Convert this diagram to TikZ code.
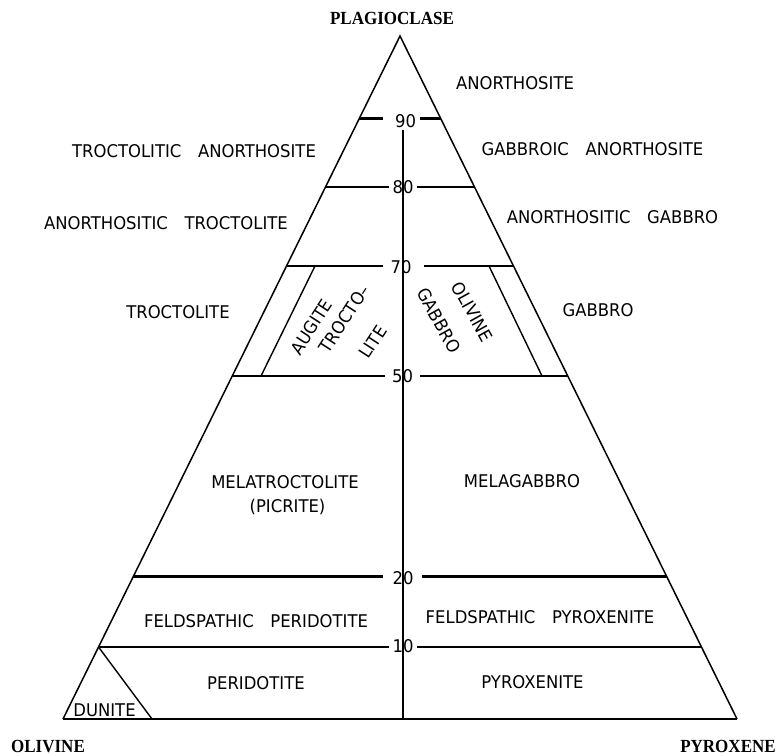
\documentclass[tikz,border=0pt]{standalone}
\usepackage{fontspec}
\setmainfont{DejaVu Sans}[FakeStretch=0.94]
\newfontfamily\cornerfont{Liberation Serif}[FakeStretch=0.92]
\usetikzlibrary{calc}
\newcommand\wsp{\hspace{0.95em}}
\begin{document}
\begin{tikzpicture}[x=1pt,y=-1pt,
  side/.style={line width=1.5pt},
  baseln/.style={line width=2.2pt},
  level/.style={line width=2.5pt},
  thinln/.style={line width=1.4pt},
  lab/.style={font=\fontsize{17.5}{21}\selectfont, inner sep=0pt, text height=12.8pt, text depth=0pt},
  num/.style={font=\fontsize{17.5}{21}\selectfont, inner sep=0pt, text height=12.8pt, text depth=0pt},
  corner/.style={font=\cornerfont\bfseries\fontsize{18.5}{22}\selectfont, inner sep=0pt, text height=12.2pt, text depth=0pt}
]
\fill[white] (0,0) rectangle (778,755);
\useasboundingbox (0,0) rectangle (778,755);

% corners of the triangle
\coordinate (top) at (400,36);
\coordinate (ol) at (63,719);
\coordinate (px) at (737,719);
\coordinate (bc) at (403,719);

% level points on the two sides
\foreach \n/\yy in {90/118.5, 80/187, 70/266, 50/376, 20/576.5, 10/647} {
  \coordinate (L\n) at ($(top)!{(\yy-36)/683}!(ol)$);
  \coordinate (R\n) at ($(top)!{(\yy-36)/683}!(px)$);
}

% sides
\draw[side, line join=miter] (ol) -- (top) -- (px);
\draw[baseln] (ol) -- (px);

% level numbers
\node[num] (n90) at (405.5,121) {90};
\node[num] (n80) at (403,187.3) {80};
\node[num] (n70) at (401,266.7) {70};
\node[num] (n50) at (402.5,376) {50};
\node[num] (n20) at (403,578) {20};
\node[num] (n10) at (403,646) {10};

% central vertical line
\draw[level] ($(n90.south -| bc)+(0,2)$) -- (bc);

% level lines
\draw[level] (L90) -- ($(L90 -| n90.west)+(-12,0)$);
\draw[level] ($(L90 -| n90.east)+(4,0)$) -- (R90);
\draw[level] (L80) -- ($(L80 -| n80.west)+(-3,0)$);
\draw[level] ($(L80 -| n80.east)+(3,0)$) -- (R80);
\draw[level] (L70) -- ($(L70 -| n70.west)+(-7,0)$);
\draw[level] ($(L70 -| n70.east)+(12,0)$) -- (R70);
\draw[level] (L50) -- ($(L50 -| n50.west)+(-7,0)$);
\draw[level] ($(L50 -| n50.east)+(7,0)$) -- (R50);
\draw[level] (L20) -- ($(L20 -| n20.west)+(-9,0)$);
\draw[level] ($(L20 -| n20.east)+(8,0)$) -- (R20);
\draw[level] (L10) -- ($(L10 -| n10.west)+(-3,0)$);
\draw[level] ($(L10 -| n10.east)+(3,0)$) -- (R10);

% inner boundaries
\coordinate (a70) at (315,266);
\coordinate (a50) at (261,376);
\coordinate (o70) at (489,266);
\coordinate (o50) at (542,376);
\coordinate (d2) at (152,719);
\draw[thinln] (a70) -- (a50);
\draw[thinln] (o70) -- (o50);
\draw[thinln] (L10) -- (d2);

% corner labels
\node[corner] (plag) at (392,18) {PLAGIOCLASE};
\node[corner] (oliv) at (48,746) {OLIVINE};
\node[corner] (pyrx) at (728,746) {PYROXENE};

% field labels
\node[lab] (anor) at (515,83.5) {ANORTHOSITE};
\node[lab] (gabanor) at (592.5,149.5) {GABBROIC\wsp ANORTHOSITE};
\node[lab] (anorgab) at (612.5,217) {ANORTHOSITIC\wsp GABBRO};
\node[lab] (troanor) at (194,151.5) {TROCTOLITIC\wsp ANORTHOSITE};
\node[lab] (anortro) at (166,223.5) {ANORTHOSITIC\wsp TROCTOLITE};
\node[lab] (troc) at (178,312.5) {TROCTOLITE};
\node[lab] (gab) at (598,310.5) {GABBRO};
\node[lab] (mela) at (285,482) {MELATROCTOLITE};
\node[lab] (picr) at (287.5,506) {(PICRITE)};
\node[lab] (melag) at (522,481.5) {MELAGABBRO};
\node[lab] (fper) at (256,621.5) {FELDSPATHIC\wsp PERIDOTITE};
\node[lab] (fpyr) at (540,617.5) {FELDSPATHIC\wsp PYROXENITE};
\node[lab] (per) at (256,683.5) {PERIDOTITE};
\node[lab] (pyr) at (532.5,682.5) {PYROXENITE};
\node[lab] (dun) at (104.5,710) {DUNITE};

% rotated labels
\node[lab, rotate=57] (aug1) at (311.5,327) {AUGITE};
\node[lab, rotate=57] (aug2) at (344.5,319) {TROCTO--};
\node[lab, rotate=57] (aug3) at (373,342) {LITE};
\node[lab, rotate=-61] (olg1) at (472.5,311.7) {OLIVINE};
\node[lab, rotate=-61] (olg2) at (439,320.7) {GABBRO};
\end{tikzpicture}
\end{document}
